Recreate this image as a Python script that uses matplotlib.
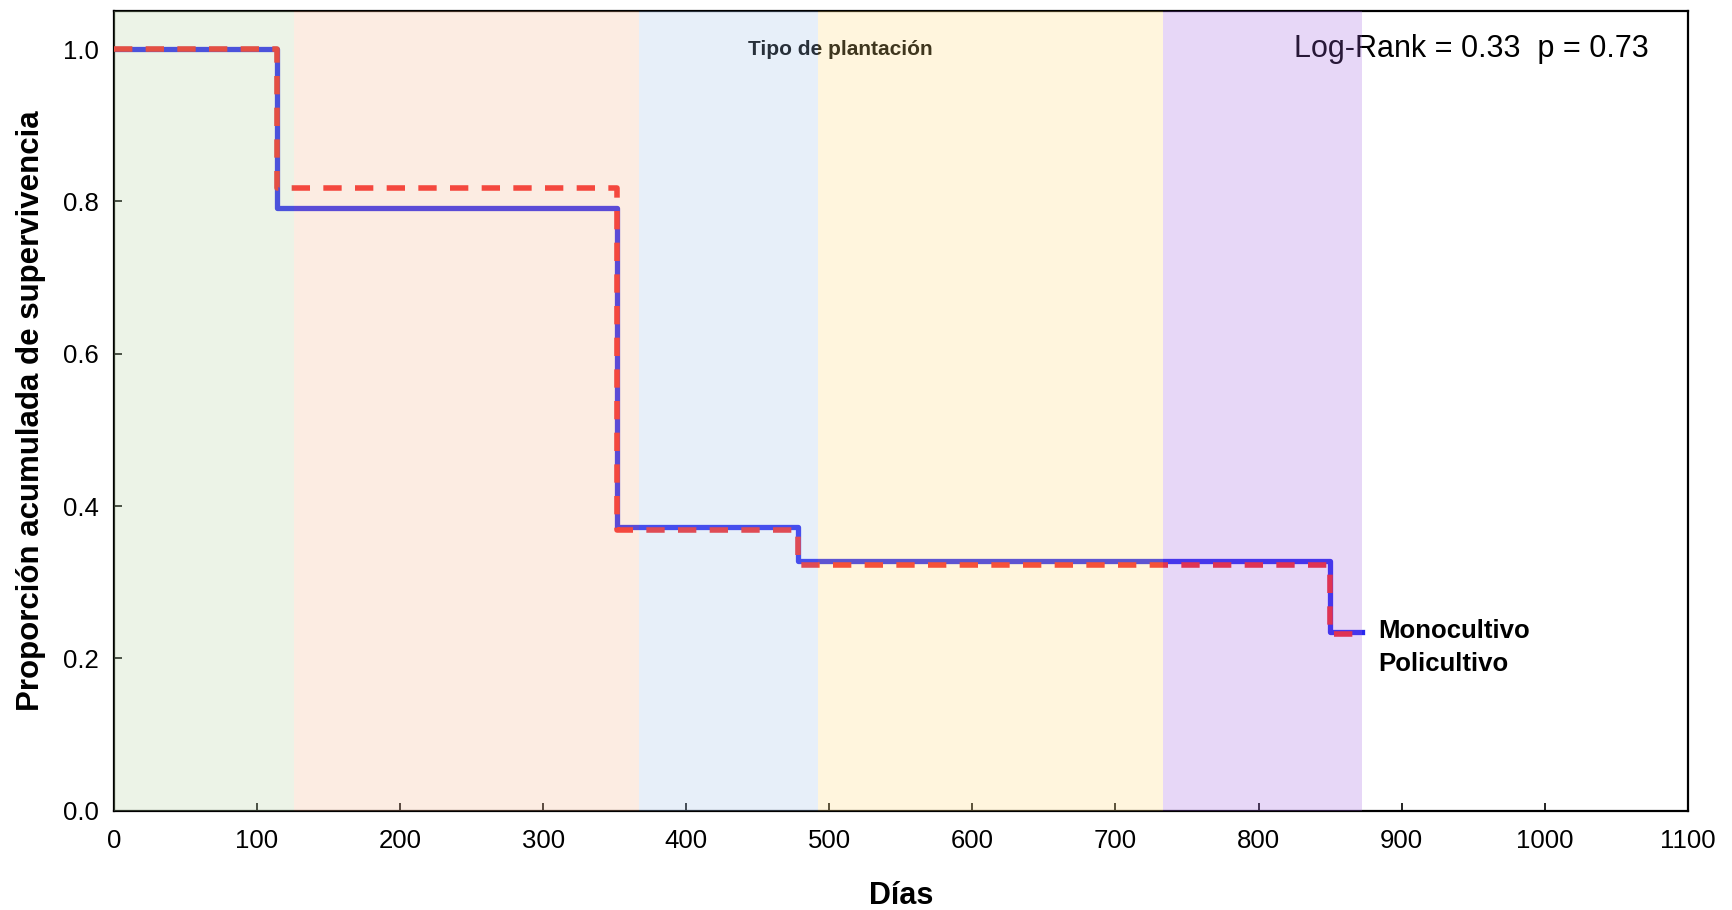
import numpy as np
import matplotlib.pyplot as plt

plt.rcParams['font.family'] = ['Liberation Sans', 'DejaVu Sans']

# Tiempos de los eventos (días) y proporción acumulada de supervivencia.
tiempos = [0, 114, 352, 478, 850, 872]
monocultivo = [1.0, 0.791, 0.372, 0.328, 0.235]
policultivo = [1.0, 0.818, 0.368, 0.323, 0.232]

# Franjas de fondo (límites en días) y sus colores.
franjas = [0, 126, 367, 492, 733, 872]
colores_franjas = ['#b7d3a3', '#f7b78f', '#a3c3eb', '#ffdb7b', '#a363e3']

x_ticks = np.arange(0, 1101, 100)
y_ticks = [0.0, 0.2, 0.4, 0.6, 0.8, 1.0]

fig = plt.figure(figsize=(17.32, 9.10), dpi=100)
ax = fig.add_axes([0.0657, 0.109, 0.9088, 0.879])

t = np.array(tiempos)
ax.plot(t, monocultivo + [monocultivo[-1]], drawstyle='steps-post',
        color='#2828ee', linewidth=3.8, zorder=2)
ax.plot(t, policultivo + [policultivo[-1]], drawstyle='steps-post',
        color='#f42424', linewidth=4.0, dashes=(3.3, 2.4), zorder=3)

# Las franjas van encima con transparencia.
for i in range(len(colores_franjas)):
    ax.axvspan(franjas[i], franjas[i + 1], color=colores_franjas[i],
               alpha=0.25, linewidth=0, zorder=5)

ax.text(508, 1.0, 'Tipo de plantación', ha='center', va='center',
        fontsize=15, fontweight='bold', zorder=1)
ax.text(949, 1.0, 'Log-Rank = 0.33  p = 0.73', ha='center', va='center',
        fontsize=22, zorder=1)
ax.text(884, 0.236, 'Monocultivo', ha='left', va='center',
        fontsize=18.5, fontweight='bold')
ax.text(884, 0.193, 'Policultivo', ha='left', va='center',
        fontsize=18.5, fontweight='bold')

ax.set_xlim(0, 1100)
ax.set_ylim(0, 1.05)
ax.set_xticks(x_ticks)
ax.set_yticks(y_ticks)
ax.set_yticklabels([f'{v:.1f}' for v in y_ticks])
ax.tick_params(direction='in', length=5.5, width=1.2, labelsize=18.5)
ax.tick_params(axis='x', pad=13)
ax.tick_params(axis='y', pad=11)

for s in ax.spines.values():
    s.set_linewidth(1.6)

ax.set_xlabel('Días', fontsize=22, fontweight='bold', labelpad=20)
ax.set_ylabel('Proporción acumulada de supervivencia', fontsize=22.5,
              fontweight='bold', labelpad=12)

fig.savefig('out.png', dpi=100)
